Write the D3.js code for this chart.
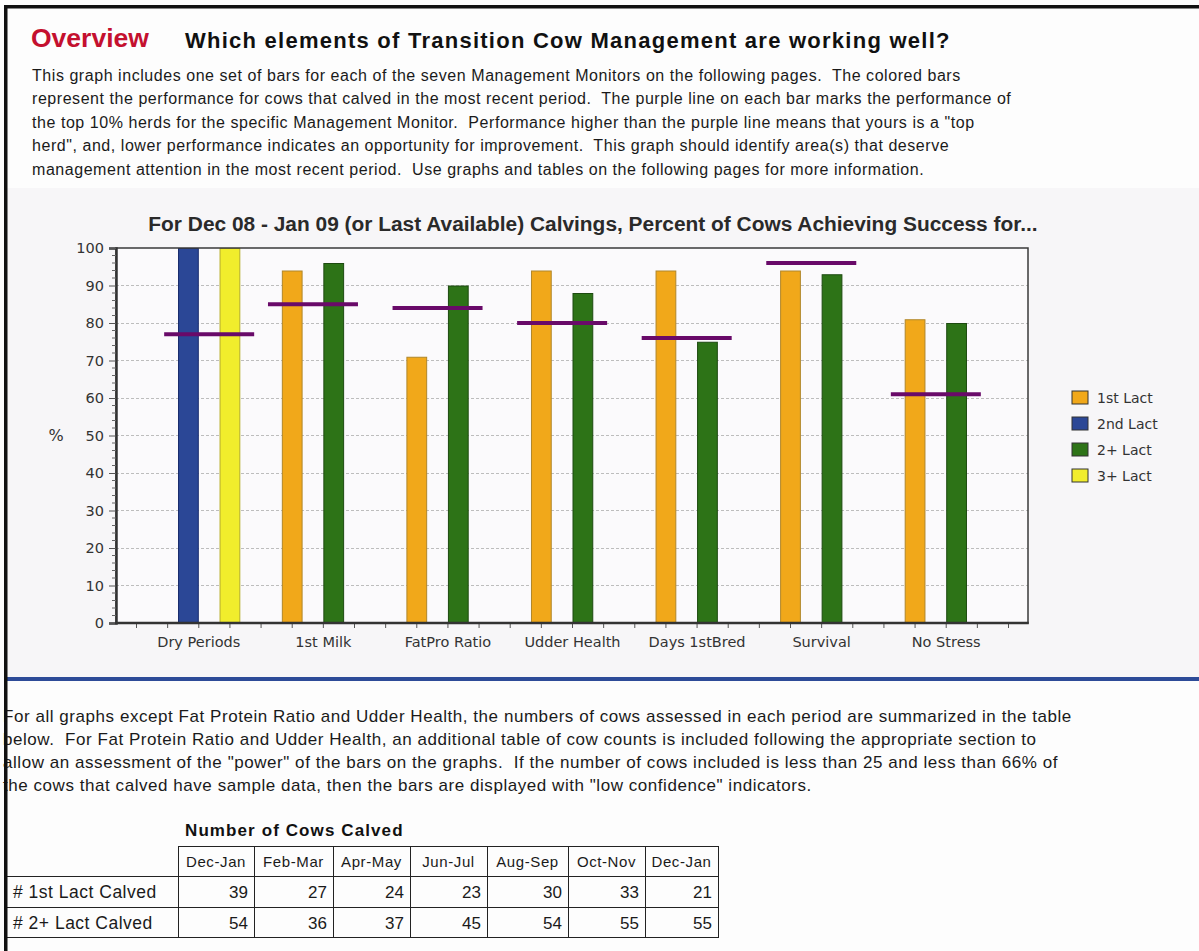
<!DOCTYPE html>
<html>
<head>
<meta charset="utf-8">
<script src="https://cdn.jsdelivr.net/npm/d3@7"></script>
<style>
    body { margin: 0; background: #fdfdfd; }
    svg { display: block; }
    text { white-space: pre; }
</style>
</head>
<body>
<div id="page"></div>
<script>
// chart data
const categories = ['Dry Periods', '1st Milk', 'FatPro Ratio', 'Udder Health', 'Days 1stBred', 'Survival', 'No Stress'];
const seriesNames = ['1st Lact', '2nd Lact', '2+ Lact', '3+ Lact'];
const lact1 = [null, 94, 71, 94, 94, 94, 81];
const lact2nd = [100, null, null, null, null, null, null];
const lact2plus = [null, 96, 90, 88, 75, 93, 80];
const lact3plus = [100, null, null, null, null, null, null];
const top10 = [77, 85, 84, 80, 76, 96, 61];
const yTicks = [0, 10, 20, 30, 40, 50, 60, 70, 80, 90, 100];

// table data
const periods = ['Dec-Jan', 'Feb-Mar', 'Apr-May', 'Jun-Jul', 'Aug-Sep', 'Oct-Nov', 'Dec-Jan'];
const rowLabels = ['# 1st Lact Calved', '# 2+ Lact Calved'];
const firstCalved = [39, 27, 24, 23, 30, 33, 21];
const secondPlusCalved = [54, 36, 37, 45, 54, 55, 55];

const introLines = [
    'This graph includes one set of bars for each of the seven Management Monitors on the following pages.  The colored bars',
    'represent the performance for cows that calved in the most recent period.  The purple line on each bar marks the performance of',
    'the top 10% herds for the specific Management Monitor.  Performance higher than the purple line means that yours is a "top',
    'herd", and, lower performance indicates an opportunity for improvement.  This graph should identify area(s) that deserve',
    'management attention in the most recent period.  Use graphs and tables on the following pages for more information.'
];
const noteLines = [
    'For all graphs except Fat Protein Ratio and Udder Health, the numbers of cows assessed in each period are summarized in the table',
    'below.  For Fat Protein Ratio and Udder Health, an additional table of cow counts is included following the appropriate section to',
    'allow an assessment of the "power" of the bars on the graphs.  If the number of cows included is less than 25 and less than 66% of',
    'the cows that calved have sample data, then the bars are displayed with "low confidence" indicators.'
];

const colors = {
    '1st Lact': { fill: '#f1a81a', stroke: '#b0862a' },
    '2nd Lact': { fill: '#2b4796', stroke: '#182a6c' },
    '2+ Lact': { fill: '#2d7317', stroke: '#1d4a10' },
    '3+ Lact': { fill: '#f1ed2c', stroke: '#b6ae28' }
};

const W = 1199, H = 951;
const plot = { left: 116, right: 1028, top: 248, bottom: 623 };
const sans = '"Liberation Sans", Arial, sans-serif';
const chartFont = '"DejaVu Sans", Verdana, sans-serif';

const svg = d3.select('#page').append('svg')
    .attr('width', W)
    .attr('height', H);

svg.append('rect').attr('width', W).attr('height', H).attr('fill', '#fdfdfd');

// chart panel background
svg.append('rect')
    .attr('x', 7).attr('y', 188)
    .attr('width', W - 7).attr('height', 489)
    .attr('fill', '#f7f6f8');

// header
svg.append('text')
    .attr('x', 31).attr('y', 47)
    .attr('font-family', sans).attr('font-weight', 'bold')
    .attr('font-size', 26.5).attr('fill', '#c4102f')
    .text('Overview');

svg.append('text')
    .attr('x', 185).attr('y', 48)
    .attr('font-family', sans).attr('font-weight', 'bold')
    .attr('font-size', 22).attr('letter-spacing', 1.25).attr('fill', '#111')
    .text('Which elements of Transition Cow Management are working well?');

svg.append('g')
    .selectAll('text')
    .data(introLines)
    .join('text')
        .attr('x', 32)
        .attr('y', (d, i) => 81 + i * 23.4)
        .attr('font-family', sans).attr('font-size', 16).attr('letter-spacing', 0.55)
        .attr('fill', '#1a1a1a')
        .text(d => d);

// scales
const y = d3.scaleLinear().domain([0, 100]).range([plot.bottom, plot.top]);
const x = d3.scaleBand().domain(categories).range([136.5, 1008.5]);
const xs = d3.scaleBand().domain(seriesNames).range([0, x.bandwidth()]).paddingOuter(1);

const seriesValues = {
    '1st Lact': lact1,
    '2nd Lact': lact2nd,
    '2+ Lact': lact2plus,
    '3+ Lact': lact3plus
};

const bars = [];
categories.forEach((c, i) => {
    seriesNames.forEach(s => {
        const v = seriesValues[s][i];
        if (v !== null) bars.push({ category: c, series: s, value: v, index: i });
    });
});

// plot area
svg.append('rect')
    .attr('x', plot.left).attr('y', plot.top)
    .attr('width', plot.right - plot.left).attr('height', plot.bottom - plot.top)
    .attr('fill', '#fbfafc');

// gridlines
svg.append('g')
    .selectAll('line')
    .data(yTicks.filter(d => d > 0 && d < 100))
    .join('line')
        .attr('x1', plot.left).attr('x2', plot.right)
        .attr('y1', d => y(d)).attr('y2', d => y(d))
        .attr('stroke', '#bdbdbd').attr('stroke-width', 1)
        .attr('stroke-dasharray', '3,2')
        .attr('shape-rendering', 'crispEdges');

// bars
svg.append('g')
    .selectAll('rect')
    .data(bars)
    .join('rect')
        .attr('x', d => x(d.category) + xs(d.series) + 0.5)
        .attr('y', d => y(d.value) + 0.5)
        .attr('width', xs.bandwidth() - 1)
        .attr('height', d => y(0) - y(d.value) - 0.5)
        .attr('fill', d => colors[d.series].fill)
        .attr('stroke', d => colors[d.series].stroke)
        .attr('stroke-width', 1);

// top 10% markers, centered on the bars that are present
svg.append('g')
    .selectAll('line')
    .data(categories)
    .join('line')
        .each(function(c, i) {
            const present = bars.filter(b => b.category === c);
            const cx = d3.mean(present, b => x(b.category) + xs(b.series) + xs.bandwidth() / 2);
            d3.select(this)
                .attr('x1', cx - 45).attr('x2', cx + 45)
                .attr('y1', y(top10[i])).attr('y2', y(top10[i]));
        })
        .attr('stroke', '#690a69').attr('stroke-width', 4);

// plot frame
svg.append('rect')
    .attr('x', plot.left).attr('y', plot.top)
    .attr('width', plot.right - plot.left).attr('height', plot.bottom - plot.top)
    .attr('fill', 'none').attr('stroke', '#3a3a3a').attr('stroke-width', 1.5);

// y axis
const yAxis = svg.append('g')
    .attr('transform', `translate(${plot.left},0)`)
    .call(d3.axisLeft(y).tickValues(yTicks).tickSize(7).tickPadding(5));
yAxis.select('.domain').attr('stroke', '#333').attr('stroke-width', 2.5);
yAxis.selectAll('.tick line').attr('stroke', '#555');
yAxis.selectAll('.tick text')
    .attr('font-family', chartFont).attr('font-size', 14.5).attr('fill', '#333');

svg.append('g')
    .selectAll('line')
    .data(d3.range(0, 101, 2).filter(d => d % 10 !== 0))
    .join('line')
        .attr('x1', plot.left - 4).attr('x2', plot.left)
        .attr('y1', d => y(d)).attr('y2', d => y(d))
        .attr('stroke', '#666').attr('stroke-width', 1);

// x axis: ticks at each quarter of a category band
const xTickPos = [];
categories.forEach(c => {
    for (let k = 0; k < 4; k++) xTickPos.push(x(c) + k * x.bandwidth() / 4);
});
xTickPos.push(x.range()[1]);

svg.append('g')
    .selectAll('line')
    .data(xTickPos)
    .join('line')
        .attr('x1', d => d).attr('x2', d => d)
        .attr('y1', plot.bottom).attr('y2', plot.bottom + 5)
        .attr('stroke', '#555').attr('stroke-width', 1);

svg.append('line')
    .attr('x1', plot.left - 1).attr('x2', plot.right + 0.75)
    .attr('y1', plot.bottom).attr('y2', plot.bottom)
    .attr('stroke', '#333').attr('stroke-width', 2.5);

svg.append('g')
    .selectAll('text')
    .data(categories)
    .join('text')
        .attr('x', d => x(d) + x.bandwidth() / 2)
        .attr('y', 647)
        .attr('text-anchor', 'middle')
        .attr('font-family', chartFont).attr('font-size', 14.5).attr('fill', '#333')
        .text(d => d);

svg.append('text')
    .attr('x', 56).attr('y', 441)
    .attr('text-anchor', 'middle')
    .attr('font-family', chartFont).attr('font-size', 16).attr('fill', '#333')
    .text('%');

// title
svg.append('text')
    .attr('x', 593).attr('y', 231)
    .attr('text-anchor', 'middle')
    .attr('font-family', sans).attr('font-weight', 'bold')
    .attr('font-size', 20.9).attr('fill', '#2a2a2a')
    .text('For Dec 08 - Jan 09 (or Last Available) Calvings, Percent of Cows Achieving Success for...');

// legend
const legend = svg.append('g')
    .selectAll('g')
    .data(seriesNames)
    .join('g')
        .attr('transform', (d, i) => `translate(1072,${391 + i * 26})`);
legend.append('rect')
    .attr('width', 16).attr('height', 13)
    .attr('fill', d => colors[d].fill)
    .attr('stroke', '#333').attr('stroke-width', 1);
legend.append('text')
    .attr('x', 25).attr('y', 11.5)
    .attr('font-family', chartFont).attr('font-size', 14).attr('fill', '#333')
    .text(d => d);

// separator
svg.append('rect')
    .attr('x', 7).attr('y', 677)
    .attr('width', W - 7).attr('height', 4)
    .attr('fill', '#2d4b98');

svg.append('g')
    .selectAll('text')
    .data(noteLines)
    .join('text')
        .attr('x', 3)
        .attr('y', (d, i) => 722 + i * 23)
        .attr('font-family', sans).attr('font-size', 17).attr('letter-spacing', 0.55)
        .attr('fill', '#1a1a1a')
        .text(d => d);

// counts table
const colEdges = [7, 178, 254, 333, 410, 487, 568, 645, 718];
const rowEdges = [846, 876, 907, 937];
const tbl = svg.append('g');

tbl.append('text')
    .attr('x', 185).attr('y', 836)
    .attr('font-family', sans).attr('font-weight', 'bold')
    .attr('font-size', 17).attr('letter-spacing', 1.1).attr('fill', '#111')
    .text('Number of Cows Calved');

tbl.append('g')
    .selectAll('text')
    .data(periods)
    .join('text')
        .attr('x', (d, i) => (colEdges[i + 1] + colEdges[i + 2]) / 2)
        .attr('y', rowEdges[0] + 21)
        .attr('text-anchor', 'middle')
        .attr('font-family', sans).attr('font-size', 15).attr('letter-spacing', 0.6)
        .attr('fill', '#1a1a1a')
        .text(d => d);

const rows = [firstCalved, secondPlusCalved];
rows.forEach((vals, r) => {
    tbl.append('text')
        .attr('x', 13).attr('y', rowEdges[r + 1] + 22)
        .attr('font-family', sans).attr('font-size', 17.5).attr('letter-spacing', 0.5)
        .attr('fill', '#1a1a1a')
        .text(rowLabels[r]);
    tbl.append('g')
        .selectAll('text')
        .data(vals)
        .join('text')
            .attr('x', (d, i) => colEdges[i + 2] - 6)
            .attr('y', rowEdges[r + 1] + 22)
            .attr('text-anchor', 'end')
            .attr('font-family', sans).attr('font-size', 17).attr('fill', '#1a1a1a')
            .text(d => d);
});

// horizontal rules
rowEdges.forEach((ry, r) => {
    tbl.append('line')
        .attr('x1', r === 0 ? colEdges[1] : colEdges[0]).attr('x2', colEdges[colEdges.length - 1])
        .attr('y1', ry + 0.5).attr('y2', ry + 0.5)
        .attr('stroke', '#222').attr('stroke-width', 1);
});
// vertical rules
colEdges.slice(1).forEach(cx => {
    tbl.append('line')
        .attr('x1', cx + 0.5).attr('x2', cx + 0.5)
        .attr('y1', rowEdges[0]).attr('y2', rowEdges[rowEdges.length - 1] + 1)
        .attr('stroke', '#222').attr('stroke-width', 1);
});

// page frame
svg.append('rect').attr('x', 4).attr('y', 5).attr('width', 3.5).attr('height', H - 5).attr('fill', '#111');
svg.append('rect').attr('x', 4).attr('y', 5).attr('width', W - 4).attr('height', 3.5).attr('fill', '#111');
</script>
</body>
</html>
